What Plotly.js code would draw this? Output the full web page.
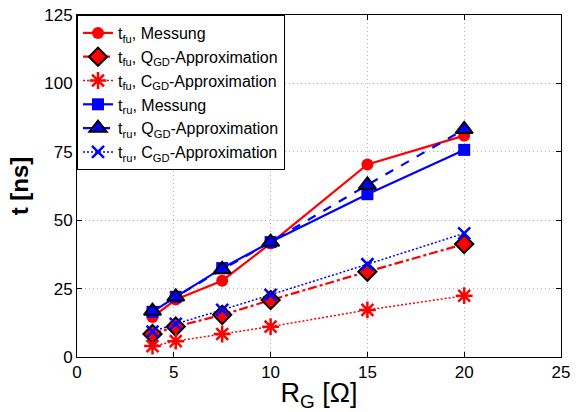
<!DOCTYPE html>
<html>
<head>
<meta charset="utf-8">
<script src="https://cdn.plot.ly/plotly-3.0.1.min.js"></script>
<style>html,body{margin:0;padding:0;background:#fff;}#plot{width:578px;height:412px;}</style>
</head>
<body>
<div id="plot"></div>
<script>
const rG = [3.9, 5.1, 7.5, 10, 15, 20];
const tfuMessung = [14.6, 21.0, 27.9, 41.5, 70.4, 80.9];
const tfuQGD = [8.4, 11.1, 15.4, 20.8, 31.2, 41.3];
const tfuCGD = [4.0, 5.8, 8.4, 11.1, 17.2, 22.4];
const truMessung = [16.5, 22.0, 32.5, 42.0, 59.5, 75.7];
const truQGD = [16.8, 22.0, 32.0, 42.0, 62.9, 83.2];
const truCGD = [9.3, 12.1, 17.2, 22.7, 33.9, 45.2];
const names = [
  't<sub>fu</sub>, Messung',
  't<sub>fu</sub>, Q<sub>GD</sub>-Approximation',
  't<sub>fu</sub>, C<sub>GD</sub>-Approximation',
  't<sub>ru</sub>, Messung',
  't<sub>ru</sub>, Q<sub>GD</sub>-Approximation',
  't<sub>ru</sub>, C<sub>GD</sub>-Approximation'
];
const xTicks = [0, 5, 10, 15, 20, 25];
const yTicks = [0, 25, 50, 75, 100, 125];

const red = '#ff0000', blue = '#0000ff';
const traces = [
  {y: tfuMessung, name: names[0], line: {color: red, width: 2.2, dash: 'solid'},
   marker: {symbol: 'circle', size: 12, color: red}},
  {y: tfuQGD, name: names[1], line: {color: red, width: 2.2, dash: 'dashdot'},
   marker: {symbol: 'diamond', size: 14, color: red, line: {color: '#000', width: 2}}},
  {y: tfuCGD, name: names[2], line: {color: red, width: 1.5, dash: '2px,2px'},
   marker: {symbol: 'asterisk-open', size: 14, color: red, line: {color: red, width: 2.5}}},
  {y: truMessung, name: names[3], line: {color: blue, width: 2.2, dash: 'solid'},
   marker: {symbol: 'square', size: 12, color: blue}},
  {y: truQGD, name: names[4], line: {color: blue, width: 2.2, dash: 'dash'},
   marker: {symbol: 'triangle-up', size: 15, color: blue, line: {color: '#000', width: 2}}},
  {y: truCGD, name: names[5], line: {color: blue, width: 1.5, dash: '2px,2px'},
   marker: {symbol: 'x-thin-open', size: 12, color: blue, line: {color: blue, width: 2.5}}}
].map(t => Object.assign({x: rG, type: 'scatter', mode: 'lines+markers'}, t));

const axisCommon = {
  showline: true, linecolor: '#000', linewidth: 1, mirror: 'ticks',
  ticks: 'inside', ticklen: 5, tickcolor: '#000',
  showgrid: true, gridcolor: '#b4b4b4', griddash: '1px,3px', gridwidth: 1,
  zeroline: false, tickfont: {family: 'Liberation Sans, Arial, sans-serif', size: 17, color: '#000'}
};

const layout = {
  width: 578, height: 412,
  margin: {l: 77, r: 17, t: 15, b: 55},
  paper_bgcolor: '#fff', plot_bgcolor: '#fff',
  showlegend: true,
  font: {family: 'Liberation Sans, Arial, sans-serif', color: '#000'},
  xaxis: Object.assign({}, axisCommon, {
    range: [0, 25], tickvals: xTicks, ticktext: xTicks.map(String),
    title: {text: 'R<sub>G</sub> [Ω]', font: {size: 27, color: '#000'}, standoff: 4}
  }),
  yaxis: Object.assign({}, axisCommon, {
    range: [0, 125], tickvals: yTicks, ticktext: yTicks.map(String),
    title: {text: '<b>t [ns]</b>', font: {size: 24, color: '#000'}, standoff: 8}
  }),
  legend: {
    x: 0, y: 1, xanchor: 'left', yanchor: 'top',
    bgcolor: '#fff', bordercolor: '#000', borderwidth: 1,
    font: {size: 16, color: '#000'}, tracegroupgap: 0, itemwidth: 30
  }
};

Plotly.newPlot('plot', traces, layout, {displayModeBar: false, staticPlot: true});
</script>
</body>
</html>
